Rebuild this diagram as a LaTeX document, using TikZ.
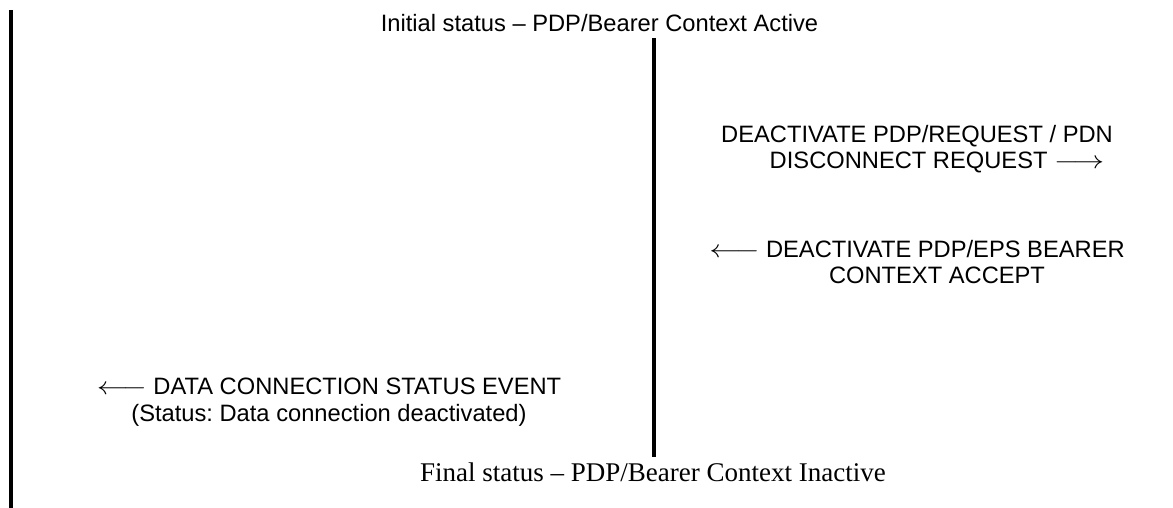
\documentclass[tikz,border=0pt]{standalone}
\usepackage{graphicx}
\usepackage{fontspec}
\setmainfont{Liberation Sans}
\newfontfamily\finalfont{Liberation Serif}
\usetikzlibrary{positioning}
\frenchspacing

\newcommand{\toleft}{\scalebox{1.25}[1]{$\longleftarrow$}}
\newcommand{\toright}{\smash{\scalebox{1.25}[1]{$\longrightarrow$}}}

\begin{document}
\begin{tikzpicture}[
    x=1pt, y=-1pt,
    lifeline/.style={line width=4pt, draw=black},
    msg/.style={inner sep=0pt, align=center, anchor=north, font=\fontsize{23.7}{26.5}\selectfont},
    status/.style={inner sep=0pt, anchor=base},
]
\useasboundingbox (0,0) rectangle (1173,508);
% lifelines
\coordinate (ue top) at (10.8,10);
\coordinate (ue bot) at (10.8,508);
\coordinate (ms top) at (654,38);
\coordinate (ms bot) at (654,457);
\draw[lifeline] (ue top) -- (ue bot);
\draw[lifeline] (ms top) -- (ms bot);
% status lines
\node[status, font=\fontsize{23.7}{26.5}\selectfont] (init) at (599.5,32) {Initial status – PDP/Bearer Context Active};
\node[status, font=\finalfont\fontsize{27}{30}\selectfont] (final) at (653,481) {Final status – PDP/Bearer Context Inactive};
% messages
\node[msg] (deact req) at (917,125) {DEACTIVATE PDP/REQUEST / PDN\\\hspace*{40pt}DISCONNECT REQUEST \toright};
\node[msg] (deact acc) at (917,240) {\toleft{} DEACTIVATE PDP/EPS BEARER\\\hspace*{40pt}CONTEXT ACCEPT};
\node[msg] (conn event) at (329,378) {\toleft{} DATA CONNECTION STATUS EVENT\\(Status: Data connection deactivated)};
\end{tikzpicture}
\end{document}
